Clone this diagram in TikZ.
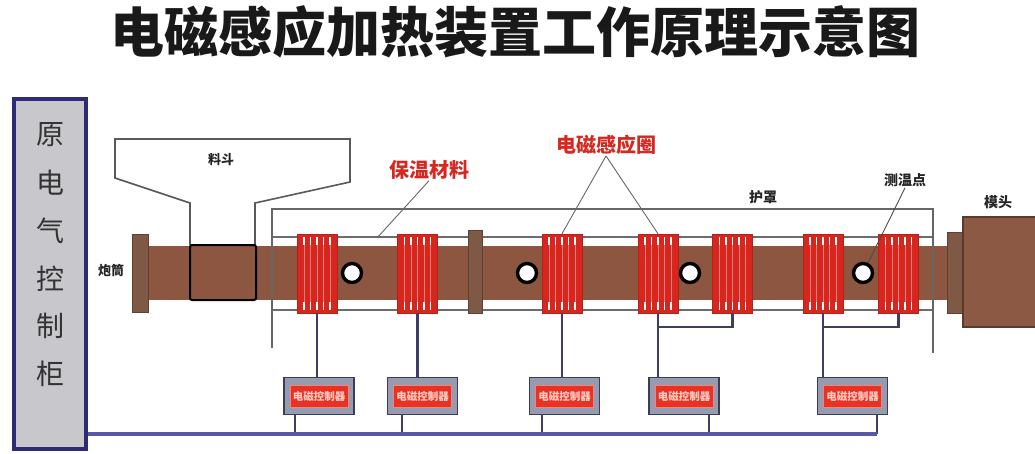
\documentclass[tikz,border=0pt]{standalone}
\usepackage{fontspec}
\newfontfamily\cjk{Noto Sans CJK SC}
\definecolor{coilred}{RGB}{214,38,30}
\definecolor{barrelc}{RGB}{140,86,64}
\definecolor{flangec}{RGB}{128,88,70}
\definecolor{flangeln}{RGB}{95,65,50}
\definecolor{diec}{RGB}{140,90,68}
\definecolor{dieln}{RGB}{90,58,42}
\definecolor{cabfill}{RGB}{200,200,204}
\definecolor{cabline}{RGB}{45,42,120}
\definecolor{ctlfill}{RGB}{150,155,175}
\definecolor{ctlline}{RGB}{60,60,90}
\definecolor{ctlred}{RGB}{232,50,35}
\definecolor{ctltext}{RGB}{255,205,195}
\definecolor{wirec}{RGB}{62,62,100}
\definecolor{busc}{RGB}{88,88,165}
\definecolor{labelred}{RGB}{212,40,32}
\begin{document}
\begin{tikzpicture}[x=1pt,y=-1pt,font=\cjk,
  coil/.style={draw=coilred!85!black,line width=0.6pt,fill=coilred,
    minimum width=40pt,minimum height=79pt,inner sep=0pt,
    path picture={
      \foreach \o in {7,13.5,20,26.5,33}{
        \draw[coilred!60!white,line width=0.8pt]
          ([xshift=\o pt,yshift=-3pt]path picture bounding box.north west) --
          ([xshift=\o pt,yshift=3pt]path picture bounding box.south west);
        \draw[white,line width=1.6pt]
          ([xshift=\o pt,yshift=-3pt]path picture bounding box.north west) --
          ([xshift=\o pt,yshift=-11pt]path picture bounding box.north west);
        \draw[white,line width=1.6pt]
          ([xshift=\o pt,yshift=3pt]path picture bounding box.south west) --
          ([xshift=\o pt,yshift=11pt]path picture bounding box.south west);
      }}},
  tpoint/.style={circle,draw=black,fill=white,line width=3.4pt,minimum size=19pt,inner sep=0pt},
  ctl/.style={draw=ctlline,line width=1.6pt,fill=ctlfill,minimum width=70pt,minimum height=37pt,inner sep=0pt},
  ctlin/.style={fill=ctlred,draw=ctlred!60!white,line width=0.6pt,minimum width=58pt,minimum height=22pt,
    inner sep=0pt,text=ctltext,font=\cjk\bfseries\fontsize{10.5}{11}\selectfont},
  wire/.style={draw=wirec,line width=2.2pt},
  bus/.style={draw=busc,line width=4.5pt},
  leader/.style={draw=gray!80!black,line width=0.9pt},
  redlabel/.style={text=labelred,font=\cjk\bfseries\fontsize{20}{22}\selectfont,inner sep=1pt},
  blklabel/.style={text=black!85,font=\cjk\bfseries\fontsize{14}{16}\selectfont,inner sep=1pt},
  cabtext/.style={text=black!80,font=\cjk\fontsize{28}{30}\selectfont,inner sep=0pt},
  outline/.style={draw=black!65,line width=1.6pt},
  insul/.style={draw=gray!85!black,line width=1.4pt}]
\useasboundingbox (0,0) rectangle (1035,453);

% title
\node[font=\cjk\bfseries\fontsize{54}{58}\selectfont,text=black!90] (title) at (515,32) {电磁感应加热装置工作原理示意图};

% control cabinet
\node[draw=cabline,fill=cabfill,line width=4pt,minimum width=72pt,minimum height=350pt,inner sep=0pt] (cab) at (50,274) {};
\foreach \ch [count=\i] in {原,电,气,控,制,柜}
  \node[cabtext] (cabt\i) at (50,{135+(\i-1)*47.8}) {\ch};

% barrel and flanges
\fill[barrelc] (135,246) rectangle (947,300);
\draw[insul] (272,237) -- (933,237);
\draw[insul] (272,310) -- (933,310);
\draw[flangeln,fill=flangec,line width=1pt] (132,234) rectangle (148,312);
\draw[flangeln,fill=flangec,line width=1pt] (468,230) rectangle (482,313);
\draw[flangeln,fill=flangec,line width=1pt] (947,232) rectangle (963,313);
\draw[dieln,fill=diec,line width=1.6pt] (963,217) rectangle (1040,327);

% feed hopper and feed section
\draw[outline] (190,245) -- (190,203) -- (115,178) -- (115,139) -- (350,139) -- (350,182) -- (255,203) -- (255,245);
\draw[black,line width=2pt,rounded corners=2pt,fill=barrelc] (190,245) rectangle (256,300);

% shield cover
\draw[outline,draw=black!60] (272,348) -- (272,209) -- (933,209) -- (933,353);

% induction coils
\foreach \x [count=\i] in {317,417.5,562,658,732.5,823,898.5}
  \node[coil] (c\i) at (\x,273.5) {};

% temperature points
\foreach \x [count=\i] in {352,527,690,863}
  \node[tpoint] (t\i) at (\x,273) {};

% labels
\node[blklabel,font=\cjk\bfseries\fontsize{13}{15}\selectfont] (hop) at (221,160) {料斗};
\node[blklabel,font=\cjk\bfseries\fontsize{13}{15}\selectfont] (brl) at (111,270) {炮筒};
\node[blklabel] (shd) at (763,197) {护罩};
\node[blklabel] (lt) at (905,180) {测温点};
\node[blklabel] (die) at (998,202) {模头};
\node[redlabel] (lb) at (429,170) {保温材料};
\node[redlabel] (le) at (606,145) {电磁感应圈};

% leader lines
\coordinate (ins) at (377,238);
\draw[leader] (lb.south) -- (ins);
\draw[leader] (le.south) -- (c3.north);
\draw[leader] (le.south) -- (c4.north);
\draw[leader,draw=black!70] (lt.south) -- (t4);

% controllers
\foreach \x [count=\i] in {319,422.5,564.5,684,852.5}{
  \node[ctl] (k\i) at (\x,396) {};
  \node[ctlin] (kt\i) at (k\i) {电磁控制器};
}

% coil to controller wiring
\coordinate (brY) at (0,327);
\coordinate (busY) at (0,434);
\foreach \i in {1,2,3}
  \draw[wire] (c\i.south) -- (c\i.south |- k\i.north);
\draw[wire] (c4.south) -- (c4.south |- k4.north);
\draw[wire] (c6.south) -- (c6.south |- k5.north);
\draw[wire] (c5.south) -- (c5.south |- brY) -- (c4.south |- brY);
\draw[wire] (c7.south) -- (c7.south |- brY) -- (c6.south |- brY);

% controller to cabinet bus
\coordinate (d1) at ([xshift=12pt]k1.south west);
\coordinate (d2) at ([xshift=15pt]k2.south west);
\coordinate (d3) at ([xshift=13pt]k3.south west);
\coordinate (d4) at ([xshift=-11pt]k4.south east);
\coordinate (d5) at ([xshift=-11pt]k5.south east);
\foreach \i in {1,...,5}
  \draw[wire] (d\i) -- (d\i |- busY);
\draw[bus] (cab.east |- busY) -- (d5 |- busY);
\end{tikzpicture}
\end{document}
